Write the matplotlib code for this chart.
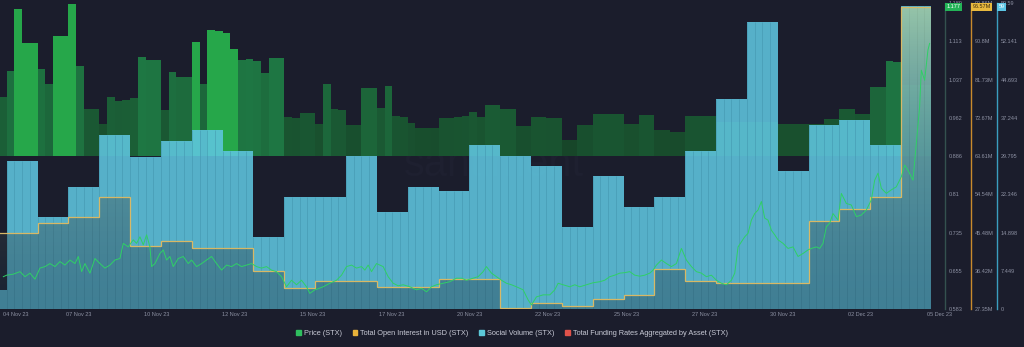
import matplotlib
matplotlib.use("Agg")
import matplotlib.pyplot as plt
import numpy as np
from matplotlib.colors import LinearSegmentedColormap, to_rgba
from matplotlib.patches import Patch
from matplotlib.transforms import blended_transform_factory

plt.rcParams["font.family"] = ["Liberation Sans", "DejaVu Sans"]

# x axis: days since midnight of the first full day (the first entry is a partial day)
date_labels = ["04 Nov 23", "07 Nov 23", "10 Nov 23", "12 Nov 23", "15 Nov 23", "17 Nov 23",
               "20 Nov 23", "22 Nov 23", "25 Nov 23", "27 Nov 23", "30 Nov 23", "02 Dec 23",
               "05 Dec 23"]

# total funding rates (%), one value per 6 hours
funding = [0.0235, 0.0340, 0.0587, 0.0451, 0.0451, 0.0347, 0.0288, 0.0480, 0.0480, 0.0608,
           0.0361, 0.0187, 0.0187, 0.0128, 0.0235, 0.0221, 0.0224, 0.0231, 0.0395, 0.0384,
           0.0384, 0.0184, 0.0336, 0.0315, 0.0315, 0.0455, 0.0288, 0.0504, 0.0501, 0.0491,
           0.0428, 0.0384, 0.0388, 0.0381, 0.0331, 0.0391, 0.0391, 0.0155, 0.0151, 0.0171,
           0.0171, 0.0128, 0.0287, 0.0187, 0.0184, 0.0124, 0.0124, 0.0271, 0.0271, 0.0193,
           0.0280, 0.0160, 0.0157, 0.0133, 0.0113, 0.0113, 0.0111, 0.0151, 0.0151, 0.0157,
           0.0161, 0.0175, 0.0157, 0.0203, 0.0203, 0.0189, 0.0189, 0.0120, 0.0120, 0.0157,
           0.0155, 0.0151, 0.0151, 0.0064, 0.0064, 0.0124, 0.0124, 0.0168, 0.0168, 0.0168,
           0.0168, 0.0128, 0.0128, 0.0164, 0.0164, 0.0104, 0.0104, 0.0095, 0.0095, 0.0160,
           0.0160, 0.0160, 0.0160, 0.0136, 0.0136, 0.0136, 0.0136, 0.0136, 0.0136, 0.0136,
           0.0136, 0.0128, 0.0128, 0.0128, 0.0128, 0.0128, 0.0128, 0.0148, 0.0148, 0.0188,
           0.0188, 0.0167, 0.0167, 0.0275, 0.0275, 0.0381, 0.0377, 0.0284, 0.0284, 0.0284,
           0.0284]

# daily social volume
social_volume = [3.70, 28.88, 17.86, 23.82, 33.88, 29.60, 32.77, 34.86, 30.83, 13.96, 21.87,
                 21.87, 29.80, 18.95, 23.82, 22.98, 31.94, 29.80, 27.91, 16.03, 25.90, 19.92,
                 21.87, 30.83, 40.95, 55.83, 26.93, 35.83, 36.81, 31.88, 59.0]

# daily open interest, million USD
open_interest = [45.29, 45.29, 47.80, 49.08, 53.82, 42.28, 43.54, 41.74, 41.88, 36.36, 32.26,
                 33.99, 33.99, 32.49, 32.49, 34.46, 34.46, 27.52, 28.84, 28.06, 29.72, 30.55,
                 36.76, 33.99, 33.58, 33.58, 33.58, 48.21, 51.05, 53.96, 98.99]

# price (USD)
price_day = [-0.112, -0.004, 0.212, 0.428, 0.590, 0.752, 0.914, 1.076, 1.238, 1.400, 1.562,
             1.724, 1.886, 2.049, 2.211, 2.319, 2.427, 2.535, 2.697, 2.859, 3.021, 3.183,
             3.345, 3.507, 3.669, 3.777, 3.939, 4.101, 4.209, 4.318, 4.426, 4.534, 4.642,
             4.696, 4.804, 4.966, 5.074, 5.182, 5.290, 5.398, 5.560, 5.722, 5.884, 5.992,
             6.154, 6.316, 6.478, 6.640, 6.802, 6.965, 7.127, 7.289, 7.451, 7.613, 7.775,
             7.937, 8.099, 8.261, 8.423, 8.585, 8.747, 8.909, 9.071, 9.233, 9.395, 9.557,
             9.719, 9.827, 9.989, 10.044, 10.260, 10.476, 10.692, 10.854, 11.017, 11.179,
             11.341, 11.503, 11.611, 11.719, 11.827, 11.989, 12.097, 12.205, 12.367, 12.529,
             12.691, 12.853, 13.069, 13.285, 13.448, 13.610, 13.772, 13.934, 14.150, 14.366,
             14.582, 14.744, 14.906, 15.122, 15.284, 15.446, 15.554, 15.717, 15.879, 16.041,
             16.203, 16.365, 16.527, 16.743, 16.905, 17.013, 17.175, 17.391, 17.608, 17.770,
             17.878, 18.040, 18.256, 18.418, 18.580, 18.796, 19.012, 19.228, 19.390, 19.552,
             19.714, 19.876, 20.039, 20.201, 20.363, 20.525, 20.687, 20.849, 20.957, 21.066,
             21.228, 21.390, 21.552, 21.714, 21.876, 22.038, 22.200, 22.362, 22.524, 22.686,
             22.848, 23.010, 23.173, 23.335, 23.497, 23.605, 23.713, 23.821, 23.929, 24.037,
             24.145, 24.253, 24.361, 24.469, 24.577, 24.685, 24.793, 24.901, 25.009, 25.171,
             25.333, 25.495, 25.658, 25.820, 25.982, 26.090, 26.252, 26.360, 26.468, 26.576,
             26.684, 26.792, 26.954, 27.062, 27.224, 27.386, 27.548, 27.710, 27.872, 28.034,
             28.143, 28.251, 28.359, 28.521, 28.683, 28.845, 29.007, 29.115, 29.223, 29.385,
             29.493, 29.601, 29.655, 29.763, 29.871, 29.925]
price_usd = [0.647, 0.650, 0.652, 0.657, 0.647, 0.654, 0.642, 0.664, 0.667, 0.673, 0.667,
             0.677, 0.670, 0.680, 0.673, 0.687, 0.657, 0.673, 0.654, 0.683, 0.673, 0.664,
             0.670, 0.680, 0.683, 0.713, 0.706, 0.720, 0.713, 0.726, 0.710, 0.730, 0.706,
             0.667, 0.673, 0.693, 0.700, 0.680, 0.687, 0.667, 0.683, 0.687, 0.673, 0.680,
             0.667, 0.673, 0.680, 0.687, 0.673, 0.660, 0.670, 0.667, 0.673, 0.667, 0.670,
             0.673, 0.667, 0.664, 0.667, 0.660, 0.657, 0.647, 0.627, 0.640, 0.631, 0.640,
             0.627, 0.614, 0.621, 0.622, 0.627, 0.634, 0.640, 0.650, 0.667, 0.670,
             0.664, 0.667, 0.660, 0.670, 0.657, 0.673, 0.670, 0.667, 0.647, 0.634,
             0.629, 0.631, 0.627, 0.621, 0.624, 0.617, 0.627, 0.631, 0.634, 0.637,
             0.644, 0.644, 0.640, 0.644, 0.647, 0.657, 0.667, 0.654, 0.647, 0.640,
             0.634, 0.631, 0.627, 0.621, 0.601, 0.591, 0.607, 0.611, 0.611, 0.621,
             0.634, 0.631, 0.627, 0.631, 0.627, 0.631, 0.635, 0.637, 0.640, 0.647,
             0.650, 0.654, 0.655, 0.657, 0.650, 0.648, 0.650, 0.654, 0.660, 0.670,
             0.680, 0.673, 0.667, 0.673, 0.703, 0.680, 0.667, 0.657, 0.654, 0.647,
             0.650, 0.640, 0.634, 0.631, 0.640, 0.654, 0.706, 0.716, 0.726, 0.733,
             0.759, 0.772, 0.779, 0.796, 0.763, 0.759, 0.739, 0.730, 0.720, 0.713,
             0.703, 0.706, 0.687, 0.693, 0.700, 0.703, 0.706, 0.703, 0.713, 0.746,
             0.753, 0.772, 0.759, 0.812, 0.792, 0.789, 0.766, 0.769, 0.779, 0.799,
             0.838, 0.852, 0.822, 0.812, 0.819, 0.825, 0.845, 0.868, 0.858, 0.838,
             0.911, 0.984, 1.056, 1.036, 1.096, 1.109]

price_ticks = ["0.583", "0.655", "0.735", "0.81", "0.886", "0.962", "1.037", "1.113", "1.189"]
oi_ticks = ["27.35M", "36.42M", "45.48M", "54.54M", "63.61M", "72.67M", "81.73M", "90.8M", "99.86M"]
social_ticks = ["0", "7.449", "14.898", "22.346", "29.795", "37.244", "44.693", "52.141", "59.59"]
price_range = (0.583, 1.189)
oi_range = (27.35, 99.86)
social_range = (0, 59.59)
last_price, last_oi, last_social = "1.177", "96.57M", "59"

BG = "#1b1d2c"
TICK = "#8d91a3"

fig = plt.figure(figsize=(10.24, 3.47), dpi=100, facecolor=BG)
ax_f = fig.add_axes([0.0, 0.1095, 0.9092, 0.8818])
ax_f.set_facecolor(BG)
ax_s = ax_f.twinx()
ax_oi = ax_f.twinx()
ax_p = ax_f.twinx()

xlim = (-0.22, 29.97)
for a in (ax_f, ax_s, ax_oi, ax_p):
    a.set_xlim(*xlim)
    for sp in a.spines.values():
        sp.set_visible(False)
    a.tick_params(bottom=False, labelbottom=False, left=False, labelleft=False,
                  right=False, labelright=False)

# faint watermark
ax_f.text(0.53, 0.47, "santiment", transform=ax_f.transAxes, ha="center", va="center",
          fontsize=30, color="#1e2030", zorder=0)

# funding rate bars (6 hours each), zero in the middle of the panel
f = np.array(funding)
f_x = (np.arange(len(f)) - 1 + 0.5) / 4
f_cmap = LinearSegmentedColormap.from_list("fr", ["#174629", "#1f7a45"])
f_col = [("#26a74a" if v >= 0.042 else f_cmap((v - 0.006) / 0.036)) for v in f]
ax_f.bar(f_x, f, width=0.25, color=f_col, linewidth=0, zorder=2)
fmax = 0.0612
ax_f.set_ylim(-fmax, fmax)

# social volume bars (daily)
sv = np.array(social_volume)
day_x = np.arange(len(sv)) - 1 + 0.5
ax_s.bar(day_x, sv, width=1.0, color="#5fc6e0", alpha=0.88, linewidth=0)
q_x = np.arange(-1, len(sv) - 1, 0.25)
ax_s.vlines(q_x, 0, np.repeat(sv, 4), color="#3f8ea8", linewidth=0.45, alpha=0.7)
ax_s.set_ylim(*social_range)

# open interest: gradient area + step line
oi = np.array(open_interest)
edges = np.arange(len(oi) + 1) - 1
poly = ax_oi.fill_between(edges, np.append(oi, oi[-1]), 0, step="post",
                          facecolor="none", edgecolor="none")
top_c = np.array(to_rgba("#d9dc8a", 0.5))
bot_c = np.array(to_rgba("#1e3040", 0.38))
t = (np.linspace(0, 1, 256) ** 1.6)[:, None]
grad = (bot_c[None, :] * (1 - t) + top_c[None, :] * t)[:, None, :]
im = ax_oi.imshow(grad, extent=[xlim[0], xlim[1], oi_range[0], oi_range[1]],
                  aspect="auto", origin="lower", zorder=1)
im.set_clip_path(poly.get_paths()[0], ax_oi.transData)
ax_oi.stairs(oi, edges, baseline=None, color="#d8b865", linewidth=0.9, zorder=3)
ax_oi.set_xlim(*xlim)
ax_oi.set_ylim(*oi_range)

# price line
ax_p.plot(price_day, price_usd, color="#2fd066", linewidth=0.7)
ax_p.set_ylim(*price_range)

# right hand axes
axis_specs = [
    (ax_p, 945 / 931, "#34514f", price_ticks, price_range, last_price, "#23b457", "white"),
    (ax_oi, 971 / 931, "#c98a2c", oi_ticks, oi_range, last_oi, "#e8b93e", "#3b2a10"),
    (ax_s, 997 / 931, "#3a9ec0", social_ticks, social_range, last_social, "#5cc6e6", "white"),
]
for a, pos, col, labels, rng, badge, bcol, tcol in axis_specs:
    sp = a.spines["right"]
    sp.set_visible(True)
    sp.set_position(("axes", pos))
    sp.set_color(col)
    sp.set_linewidth(1.0)
    a.set_yticks(np.linspace(rng[0], rng[1], len(labels)))
    a.set_yticklabels(labels)
    a.tick_params(right=True, labelright=True, length=0, pad=2.5,
                  labelsize=4, labelcolor=TICK)
    a.text(pos + 0.0015, 0.988, badge, transform=a.transAxes, ha="left", va="center",
           fontsize=4, color=tcol, zorder=10,
           bbox=dict(boxstyle="square,pad=0.25", facecolor=bcol, edgecolor="none"),
           clip_on=False)

# date labels
tick_x = xlim[0] + 2.538 * np.arange(len(date_labels))
xt = blended_transform_factory(ax_f.transData, ax_f.transAxes)
for i, (x, lab) in enumerate(zip(tick_x, date_labels)):
    ax_f.text(x + (0.09 if i == 0 else 0), -0.019, lab, transform=xt,
              ha="left" if i == 0 else "center", va="center",
              fontsize=4, color=TICK, clip_on=False)

handles = [Patch(color="#2fbf5f"), Patch(color="#e8b23a"), Patch(color="#5cc8d8"),
           Patch(color="#e0524a")]
names = ["Price (STX)", "Total Open Interest in USD (STX)", "Social Volume (STX)",
         "Total Funding Rates Aggregated by Asset (STX)"]
fig.legend(handles, names, loc="center", bbox_to_anchor=(0.5, 0.038), ncol=4,
           frameon=False, fontsize=5.3, handlelength=0.6, handleheight=0.6,
           handletextpad=0.4, columnspacing=1.5, labelcolor="#c8cad6")

fig.savefig("out.png", dpi=100, facecolor=BG)
